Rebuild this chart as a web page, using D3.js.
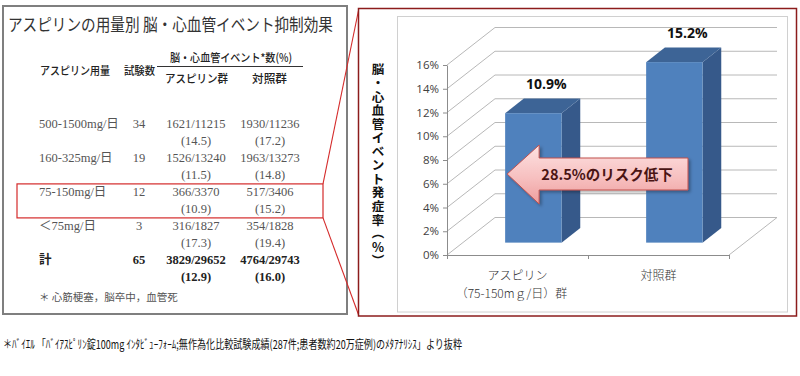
<!DOCTYPE html>
<html><head><meta charset="utf-8">
<script src="https://cdn.jsdelivr.net/npm/d3@7"></script>
<style>body{margin:0;background:#fff}svg{display:block}</style>
</head><body><svg id="c" width="800" height="376"></svg>
<script>
// ---------- data ----------
const tableTitle = "アスピリンの用量別 脳・心血管イベント抑制効果";
const tableHeaders = ["アスピリン用量", "試験数", "脳・心血管イベント*数(%)", "アスピリン群", "対照群"];
const doses = ["500-1500mg/日", "160-325mg/日", "75-150mg/日", "＜75mg/日", "計"];
const trials = ["34", "19", "12", "3", "65"];
const aspirinEvents = ["1621/11215", "1526/13240", "366/3370", "316/1827", "3829/29652"];
const aspirinPct = ["(14.5)", "(11.5)", "(10.9)", "(17.3)", "(12.9)"];
const controlEvents = ["1930/11236", "1963/13273", "517/3406", "354/1828", "4764/29743"];
const controlPct = ["(17.2)", "(14.8)", "(15.2)", "(19.4)", "(16.0)"];
const tableNote = "＊ 心筋梗塞，脳卒中，血管死";
const highlightRow = 2;

const categories = [["アスピリン", "（75-150mｇ/日）群"], ["対照群"]];
const values = [10.9, 15.2];
const valueLabels = ["10.9%", "15.2%"];
const yTicks = [0, 2, 4, 6, 8, 10, 12, 14, 16];
const yTitle = "脳・心血管イベント発症率（％）";
const arrowText = "28.5%のリスク低下";
const footnote = "＊ﾊﾞｲｴﾙ 「ﾊﾞｲｱｽﾋﾟﾘﾝ錠100mg  ｲﾝﾀﾋﾞｭｰﾌｫｰﾑ;無作為化比較試験成績(287件;患者数約20万症例)のﾒﾀｱﾅﾘｼｽ」より抜粋";

// ---------- setup ----------
const svg = d3.select("#c");
const JP = "'Noto Sans CJK JP', 'Noto Sans', sans-serif";
const SERIF = "'Liberation Serif', 'DejaVu Serif', 'Noto Sans CJK JP', serif";
const NUM = "'Open Sans', 'Noto Sans', 'Noto Sans CJK JP', sans-serif";

// ---------- left table panel ----------
const L = svg.append("g");
L.append("rect").attr("x", 3).attr("y", 6).attr("width", 344).attr("height", 308)
  .attr("fill", "#fff").attr("stroke", "#7f7f7f").attr("stroke-width", 2);
L.append("text").attr("x", 8).attr("y", 31).text(tableTitle)
  .attr("font-family", JP).attr("font-size", 17).attr("fill", "#333")
  .attr("textLength", 325).attr("lengthAdjust", "spacingAndGlyphs");

const hdr = [
  {t: tableHeaders[0], x: 40, y: 75, w: 70},
  {t: tableHeaders[1], x: 124, y: 75, w: 31},
  {t: tableHeaders[2], x: 170, y: 62, w: 122},
  {t: tableHeaders[3], x: 165, y: 83, w: 63},
  {t: tableHeaders[4], x: 252, y: 83, w: 35}
];
L.selectAll("text.h").data(hdr).join("text").attr("class", "h")
  .attr("x", d => d.x).attr("y", d => d.y).text(d => d.t)
  .attr("font-family", JP).attr("font-size", 11.5).attr("font-weight", 500).attr("fill", "#222")
  .attr("textLength", d => d.w).attr("lengthAdjust", "spacingAndGlyphs");
L.append("line").attr("x1", 157).attr("x2", 303).attr("y1", 66.5).attr("y2", 66.5)
  .attr("stroke", "#333").attr("stroke-width", 1.2);

const rowY = i => 127.5 + i * 34.2;
const rows = doses.map((d, i) => ({i, dose: d, n: trials[i], a: aspirinEvents[i], ap: aspirinPct[i], c: controlEvents[i], cp: controlPct[i]}));
const rg = L.selectAll("g.row").data(rows).join("g").attr("class", "row")
  .attr("font-family", SERIF).attr("font-size", 12.5)
  .attr("fill", d => d.i === doses.length - 1 ? "#222" : "#555")
  .attr("font-weight", d => d.i === doses.length - 1 ? "bold" : "normal");
rg.append("text").attr("x", 39).attr("y", d => rowY(d.i)).text(d => d.dose);
rg.append("text").attr("x", 139).attr("y", d => rowY(d.i)).attr("text-anchor", "middle").text(d => d.n);
rg.append("text").attr("x", 196).attr("y", d => rowY(d.i)).attr("text-anchor", "middle").text(d => d.a);
rg.append("text").attr("x", 196).attr("y", d => rowY(d.i) + 17).attr("text-anchor", "middle").text(d => d.ap);
rg.append("text").attr("x", 270).attr("y", d => rowY(d.i)).attr("text-anchor", "middle").text(d => d.c);
rg.append("text").attr("x", 270).attr("y", d => rowY(d.i) + 17).attr("text-anchor", "middle").text(d => d.cp);
L.append("text").attr("x", 39).attr("y", 301).text(tableNote)
  .attr("font-family", JP).attr("font-size", 10.5).attr("fill", "#555");

// highlight box + connector lines
const hy0 = rowY(highlightRow) - 12, hy1 = rowY(highlightRow) + 17 + 5;
svg.append("rect").attr("x", 17).attr("y", hy0).attr("width", 306).attr("height", hy1 - hy0)
  .attr("fill", "none").attr("stroke", "#d42a2a").attr("stroke-width", 1.2);
svg.append("line").attr("x1", 323).attr("y1", hy0).attr("x2", 359).attr("y2", 8)
  .attr("stroke", "#d42a2a").attr("stroke-width", 1.1);
svg.append("line").attr("x1", 323).attr("y1", hy1).attr("x2", 359).attr("y2", 316)
  .attr("stroke", "#d42a2a").attr("stroke-width", 1.1);

// ---------- right chart panel ----------
svg.append("rect").attr("x", 358.5).attr("y", 8.5).attr("width", 438).attr("height", 307.5)
  .attr("fill", "#fff").attr("stroke", "#8c1c1c").attr("stroke-width", 1.5);
svg.append("rect").attr("x", 397.5).attr("y", 16.5).attr("width", 390).attr("height", 295.5)
  .attr("fill", "#fff").attr("stroke", "#d0d0d0").attr("stroke-width", 1);

const X0 = 447, X1 = 729, Y0 = 255, Y1 = 65;
const DX = 48, DY = -37.5;
const y = d3.scaleLinear().domain([0, 16]).range([Y0, Y1]);
const x = d3.scaleBand().domain(d3.range(values.length)).range([X0, X1]).paddingInner(0.6).paddingOuter(0.3);
const bw = x.bandwidth();

const grid = svg.append("g").attr("stroke", "#b8b8b8").attr("stroke-width", 1).attr("fill", "none");
yTicks.forEach(t => {
  grid.append("line").attr("x1", X0 + DX).attr("x2", X1 + DX).attr("y1", y(t) + DY).attr("y2", y(t) + DY);
  grid.append("line").attr("x1", X0).attr("y1", y(t)).attr("x2", X0 + DX).attr("y2", y(t) + DY);
});
grid.append("line").attr("x1", X1).attr("y1", Y0).attr("x2", X1 + DX).attr("y2", Y0 + DY);

// bars
const f0 = 0.33, f1 = 0.72;
const ddx = (f1 - f0) * DX, ddy = (f1 - f0) * DY;
const bars = values.map((v, i) => {
  const l = x(i) + f0 * DX, r = l + bw, b = Y0 + f0 * DY, t = y(v) + f0 * DY;
  return {i, v, l, r, b, t};
});
const bg = svg.append("g");
bg.selectAll("polygon.side").data(bars).join("polygon").attr("class", "side")
  .attr("points", d => [[d.r, d.t], [d.r + ddx, d.t + ddy], [d.r + ddx, d.b + ddy], [d.r, d.b]].join(" "))
  .attr("fill", "#36598a");
bg.selectAll("polygon.top").data(bars).join("polygon").attr("class", "top")
  .attr("points", d => [[d.l, d.t], [d.r, d.t], [d.r + ddx, d.t + ddy], [d.l + ddx, d.t + ddy]].join(" "))
  .attr("fill", "#3d6496");
bg.selectAll("rect.front").data(bars).join("rect").attr("class", "front")
  .attr("x", d => d.l).attr("y", d => d.t).attr("width", bw).attr("height", d => d.b - d.t)
  .attr("fill", "#4f81bd");
bg.selectAll("text.vl").data(bars).join("text").attr("class", "vl")
  .attr("x", d => d.l + bw / 2 + 13).attr("y", d => d.t - 24)
  .attr("text-anchor", "middle").text((d, i) => valueLabels[i])
  .attr("font-family", NUM).attr("font-size", 14).attr("font-weight", "bold").attr("fill", "#111");

// axes
const ya = d3.axisLeft(y).tickValues(yTicks).tickFormat(d => d + "%").tickSize(4).tickSizeOuter(0);
const yag = svg.append("g").attr("transform", `translate(${X0},0)`).call(ya);
yag.select(".domain").attr("stroke", "#8c8c8c");
yag.selectAll(".tick line").attr("stroke", "#8c8c8c");
yag.selectAll(".tick text").attr("font-family", NUM).attr("font-size", 11.5).attr("fill", "#404040").attr("x", -8);

const xa = d3.axisBottom(d3.scaleLinear().domain([0, values.length]).range([X0, X1]))
  .tickValues(d3.range(values.length + 1)).tickFormat("").tickSize(4).tickSizeOuter(0);
const xag = svg.append("g").attr("transform", `translate(0,${Y0})`).call(xa);
xag.select(".domain").attr("stroke", "#8c8c8c");
xag.selectAll(".tick line").attr("stroke", "#8c8c8c");

const cl = svg.append("g").attr("font-family", JP).attr("font-size", 12).attr("fill", "#333").attr("font-weight", 300);
categories.forEach((lines, i) => {
  lines.forEach((s, k) => {
    cl.append("text").attr("x", x(i) + bw / 2 - (k ? 6 : 0)).attr("y", 280 + k * 17.5)
      .attr("text-anchor", "middle").text(s);
  });
});

// y title (vertical, one character per cell)
const tChars = Array.from(yTitle);
const tTop = 62, tStep = 205 / tChars.length, tX = 378;
const yt = svg.append("g").attr("font-family", JP).attr("font-size", 12.5).attr("font-weight", "bold").attr("fill", "#111");
tChars.forEach((ch, k) => {
  const cy = tTop + tStep * (k + 0.5);
  const rot = (ch === "（" || ch === "）") ? 90 : 0;
  yt.append("text").attr("x", 0).attr("y", 0).attr("text-anchor", "middle").attr("dominant-baseline", "central")
    .attr("transform", `translate(${tX},${cy}) rotate(${rot})`).text(ch);
});

// arrow annotation
const defs = svg.append("defs");
const gr = defs.append("linearGradient").attr("id", "ag").attr("x1", 0).attr("y1", 0).attr("x2", 0).attr("y2", 1);
gr.append("stop").attr("offset", "0%").attr("stop-color", "#fde2e2");
gr.append("stop").attr("offset", "55%").attr("stop-color", "#f7c0c0");
gr.append("stop").attr("offset", "100%").attr("stop-color", "#ee9d9d");
const fl = defs.append("filter").attr("id", "sh").attr("x", "-10%").attr("y", "-10%").attr("width", "130%").attr("height", "140%");
fl.append("feDropShadow").attr("dx", 2).attr("dy", 2).attr("stdDeviation", 1.5).attr("flood-color", "#000").attr("flood-opacity", 0.3);
const ax = bars[0].l + 2, ay = 174;
const arrowPts = [[ax, ay], [ax + 32, ay - 29], [ax + 32, ay - 16], [688, ay - 16], [688, ay + 16], [ax + 32, ay + 16], [ax + 32, ay + 30]];
svg.append("polygon").attr("points", arrowPts.join(" "))
  .attr("fill", "url(#ag)").attr("stroke", "#c0504d").attr("stroke-width", 1).attr("filter", "url(#sh)");
svg.append("text").attr("x", 607).attr("y", ay + 5.5).attr("text-anchor", "middle").text(arrowText)
  .attr("font-family", JP).attr("font-size", 14.5).attr("font-weight", "bold").attr("fill", "#4a1414");

// footnote
svg.append("text").attr("x", 3).attr("y", 349).text(footnote)
  .attr("font-family", JP).attr("font-size", 12).attr("fill", "#111")
  .attr("textLength", 459).attr("lengthAdjust", "spacingAndGlyphs");
</script></body></html>
